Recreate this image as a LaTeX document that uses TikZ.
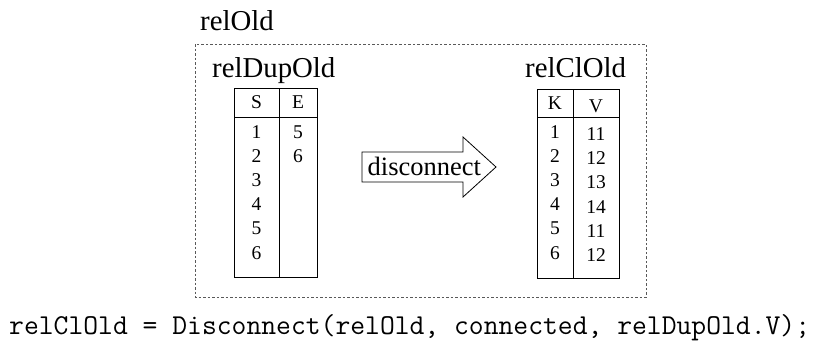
\documentclass[tikz,border=0pt]{standalone}
\usepackage{fontspec}
\setmainfont{Liberation Serif}
\begin{document}
\begin{tikzpicture}[x=1pt,y=-1pt,
  title/.style={font=\fontsize{28.8}{30}\selectfont, anchor=base west, inner sep=0pt},
  cell/.style={font=\fontsize{19.5}{20}\selectfont, anchor=base, inner sep=0pt},
  tbl/.style={draw=black, line width=0.9pt},
  group/.style={draw=black!65, line width=0.8pt, dash pattern=on 2.5pt off 2pt}]
\useasboundingbox (0,0) rectangle (824,351);

% outer relation with its dashed frame
\node[title] (relold) at (200,30) {relOld};
\draw[group] (195,44) rectangle (646,297);

% left table: relDupOld
\node[title] (dup) at (212,77) {relDupOld};
\draw[tbl] (234,88) rectangle (317,277);
\draw[tbl] (234,117) -- (317,117);
\draw[tbl] (279,88) -- (279,277);
\node[cell] (hS) at (256.5,108) {S};
\node[cell] (hE) at (298,108) {E};
\foreach \v [count=\i] in {1,...,6}
  \node[cell] (s\i) at (256.5,{138+24.2*(\i-1)}) {\v};
\node[cell] (e1) at (298,138) {5};
\node[cell] (e2) at (298,162.2) {6};

% right table: relClOld
\node[title] (cl) at (525,77) {relClOld};
\draw[tbl] (537,89) rectangle (619,278);
\draw[tbl] (537,117) -- (619,117);
\draw[tbl] (573,89) -- (573,278);
\node[cell] (hK) at (555,109) {K};
\node[cell] (hV) at (596,112) {V};
\foreach \v [count=\i] in {1,...,6}
  \node[cell] (k\i) at (555,{138+24.2*(\i-1)}) {\v};
\foreach \v [count=\i] in {11,12,13,14,11,12}
  \node[cell] (v\i) at (596,{140.5+24.2*(\i-1)}) {\v};

% block arrow with its label
\draw[line width=0.8pt, line join=miter]
  (362,152) -- (463,152) -- (463,137) -- (496,167) -- (463,197)
  -- (463,182) -- (362,182) -- cycle;
\node[font=\fontsize{26.5}{28}\selectfont, anchor=base west, inner sep=0pt]
  (op) at (367.5,175) {disconnect};

% call that produces the result
\node[font=\ttfamily\fontsize{28.8}{30}\selectfont, anchor=base west, inner sep=0pt]
  (code) at (9,334) {relClOld = Disconnect(relOld, connected, relDupOld.V);};
\end{tikzpicture}
\end{document}
